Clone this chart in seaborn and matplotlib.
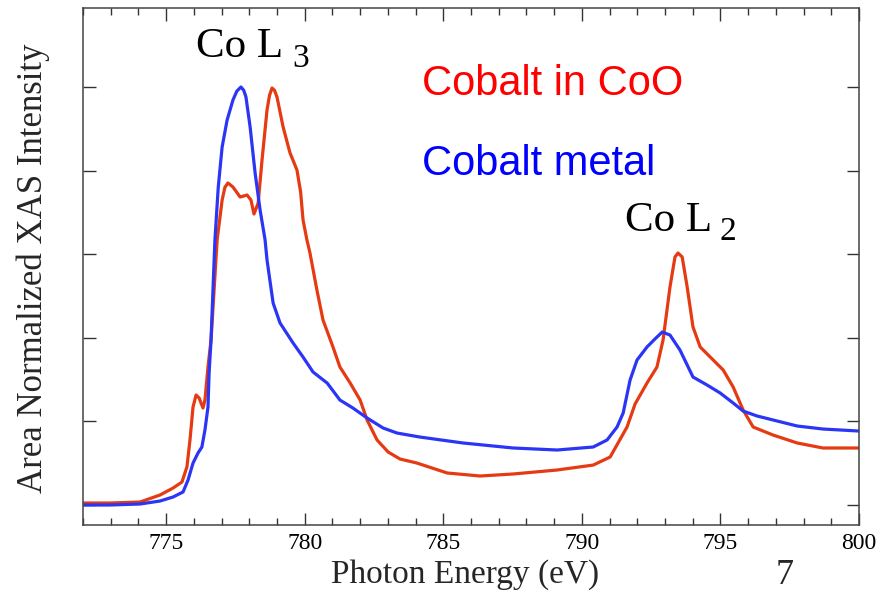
import matplotlib
matplotlib.use("Agg")
import matplotlib.pyplot as plt
import seaborn as sns
import pandas as pd

# ---- data ----
coo_energy = [772.00, 772.97, 774.06, 774.78, 775.25, 775.57, 775.75, 775.86, 775.97,
              776.08, 776.19, 776.33, 776.40, 776.51, 776.62, 776.73, 776.84, 777.02,
              777.12, 777.23, 777.41, 777.67, 777.92, 778.06, 778.17, 778.32, 778.46,
              778.64, 778.73, 778.82, 778.91, 779.00, 779.22, 779.47, 779.72, 779.85,
              779.94, 780.08, 780.19, 780.44, 780.66, 781.02, 781.27, 781.64, 782.00,
              782.25, 782.61, 783.01, 783.44, 784.05, 785.14, 786.33, 787.52, 789.11,
              790.41, 791.02, 791.63, 791.92, 792.35, 792.71, 792.93, 793.18, 793.36,
              793.47, 793.62, 793.80, 794.01, 794.27, 794.74, 795.10, 795.46, 795.82,
              796.18, 796.90, 797.77, 798.70, 800.00]
coo_intensity = [0.024, 0.024, 0.036, 0.120, 0.203, 0.275, 0.455, 0.778, 1.172,
                 1.316, 1.280, 1.160, 1.256, 1.651, 1.974, 2.572, 3.170, 3.648,
                 3.800, 3.852, 3.804, 3.684, 3.708, 3.648, 3.481, 3.612, 4.127,
                 4.725, 4.900, 4.988, 4.960, 4.880, 4.522, 4.211, 4.007, 3.750,
                 3.409, 3.170, 3.014, 2.572, 2.213, 1.890, 1.651, 1.459, 1.256,
                 1.017, 0.778, 0.634, 0.550, 0.502, 0.383, 0.347, 0.371, 0.419,
                 0.478, 0.574, 0.933, 1.208, 1.459, 1.651, 1.974, 2.608, 2.967,
                 3.014, 2.967, 2.608, 2.129, 1.890, 1.734, 1.615, 1.411, 1.136,
                 0.933, 0.837, 0.742, 0.682, 0.682]

metal_energy = [772.00, 772.97, 774.06, 774.78, 775.25, 775.61, 775.79, 775.97, 776.15,
                776.29, 776.40, 776.51, 776.55, 776.62, 776.69, 776.76, 776.88, 777.02,
                777.20, 777.41, 777.55, 777.70, 777.80, 777.88, 778.03, 778.21, 778.39,
                778.57, 778.64, 778.86, 779.11, 779.58, 779.94, 780.30, 780.81, 781.27,
                781.74, 782.25, 782.83, 783.33, 784.16, 785.71, 787.52, 789.11, 790.41,
                790.91, 791.27, 791.49, 791.74, 791.99, 792.35, 792.65, 792.90, 793.18,
                793.54, 794.01, 794.52, 794.99, 795.46, 795.82, 796.32, 796.90, 797.77,
                798.70, 800.00]
metal_intensity = [0.000, 0.000, 0.012, 0.048, 0.096, 0.156, 0.299, 0.502, 0.622,
                   0.694, 0.897, 1.172, 1.579, 1.974, 2.572, 3.170, 3.800, 4.282,
                   4.605, 4.844, 4.950, 5.000, 4.960, 4.880, 4.522, 3.971, 3.529,
                   3.170, 2.931, 2.416, 2.177, 1.938, 1.770, 1.591, 1.459, 1.256,
                   1.160, 1.041, 0.921, 0.861, 0.813, 0.742, 0.682, 0.658, 0.694,
                   0.778, 0.933, 1.100, 1.495, 1.734, 1.890, 1.990, 2.069, 2.033,
                   1.854, 1.531, 1.435, 1.340, 1.220, 1.124, 1.065, 1.017, 0.945,
                   0.909, 0.885]

x_major_ticks = [775, 780, 785, 790, 795, 800]
x_tick_labels = ["775", "780", "785", "790", "795", "800"]
y_major_ticks = [0, 1, 2, 3, 4, 5]

# ---- style ----
sns.set_theme(style="ticks")
plt.rcParams["font.family"] = ["Liberation Serif", "DejaVu Serif"]

fig = plt.figure(figsize=(8.89, 5.92), dpi=100)
ax = fig.add_axes([83/889, 67/592, (859-83)/889, (525-8)/592])

red = "#E53A12"
blue = "#2B35F5"

df_coo = pd.DataFrame({"energy": coo_energy, "intensity": coo_intensity})
df_met = pd.DataFrame({"energy": metal_energy, "intensity": metal_intensity})

sns.lineplot(data=df_coo, x="energy", y="intensity", ax=ax, color=red,
             linewidth=2.3, sort=False, estimator=None,
             solid_joinstyle="round", solid_capstyle="round")
sns.lineplot(data=df_met, x="energy", y="intensity", ax=ax, color=blue,
             linewidth=2.3, sort=False, estimator=None,
             solid_joinstyle="round", solid_capstyle="round")

ax.set_xlim(772, 800)
ax.set_ylim(-0.239, 5.945)
ax.set_xticks(x_major_ticks)
ax.set_xticklabels(x_tick_labels)
ax.set_xticks(list(range(772, 801)), minor=True)
ax.set_yticks(y_major_ticks)
ax.set_yticklabels([])
ax.set_xlabel("")
ax.set_ylabel("")

ax.tick_params(axis="both", which="both", direction="in", top=True, right=True,
               colors="#333333", labelcolor="black")
ax.tick_params(axis="both", which="major", length=9, width=1.0)
ax.tick_params(axis="both", which="minor", length=5, width=1.0)
ax.tick_params(axis="x", labelsize=17, pad=6)
for sp in ax.spines.values():
    sp.set_color("#444444")
    sp.set_linewidth(1.1)

# ---- annotations ----
ax.text(776.08, 5.36, "Co L", fontsize=31, color="black", va="baseline", ha="left")
ax.text(779.55, 5.24, "3", fontsize=24, color="black", va="baseline", ha="left")
ax.text(791.56, 3.278, "Co L", fontsize=31, color="black", va="baseline", ha="left")
ax.text(794.95, 3.17, "2", fontsize=24, color="black", va="baseline", ha="left")

ax.text(784.23, 4.904, "Cobalt in CoO", fontsize=30, color="#FF0000",
        family=["Liberation Sans", "DejaVu Sans"], va="baseline", ha="left")
ax.text(784.23, 3.947, "Cobalt metal", fontsize=30, color="#0000FF",
        family=["Liberation Sans", "DejaVu Sans"], va="baseline", ha="left")

fig.text(465/889, 1-575/592, "Photon Energy (eV)", fontsize=24, ha="center", va="center")
fig.text(785/889, 1-575/592, "7", fontsize=26, ha="center", va="center")
fig.text(33/889, 1-268/592, "Area Normalized XAS Intensity", fontsize=25,
         rotation=90, ha="center", va="center")

fig.savefig("out.png", dpi=100, facecolor="white")
